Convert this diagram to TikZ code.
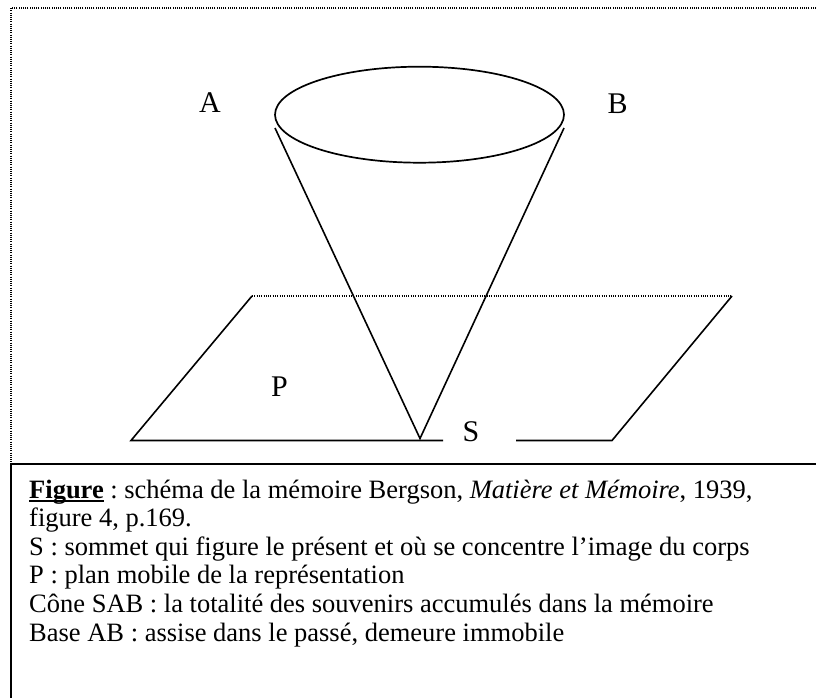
\documentclass[tikz,border=0pt]{standalone}
\usepackage{fontspec}
\setmainfont{Liberation Serif}
\usetikzlibrary{shapes.geometric}
\newcommand{\figunderline}[1]{\setbox0\hbox{#1}\rlap{\rule[-4pt]{\wd0}{1.8pt}}\box0\relax}
\tikzset{
    figure label/.style={
        font=\fontsize{30}{36}\selectfont,
        inner sep=0pt
    },
    caption line/.style={
        font=\fontsize{26.5}{28.6}\selectfont\frenchspacing,
        anchor=base west,
        inner sep=0pt
    },
    plane edge/.style={
        line width=1.6pt,
        black
    },
    plane hidden/.style={
        line width=1.1pt,
        dash pattern=on 1pt off 1.3pt
    },
    frame dotted/.style={
        line width=1.2pt,
        dash pattern=on 1.1pt off 1.1pt
    },
    frame solid/.style={
        line width=2pt
    }
}
\begin{document}
\begin{tikzpicture}[x=1pt,y=-1pt]
            \useasboundingbox (0,0) rectangle (816,698);
            \coordinate (fTL) at (11,8);
            \coordinate (fTR) at (816,8);
            \coordinate (bTL) at (11,464);
            \coordinate (bTR) at (816,464);
            \coordinate (bBL) at (11,698);
            \draw[frame dotted] (fTR) -- (fTL) -- (bTL);
            \draw[frame solid] (bBL) -- (bTL) -- (bTR);

            \node[ellipse, draw, line width=1.7pt, inner sep=0pt,
                  minimum width=289pt, minimum height=96pt] (base) at (419.5,114.7) {};
            \coordinate (rimA) at (275,128);
            \coordinate (rimB) at (564,128);
            \coordinate (apex) at (420,438.5);
            \draw[plane edge] (rimA) -- (apex) -- (rimB);

            \coordinate (p1) at (131,440.5);
            \coordinate (p2) at (252,296);
            \coordinate (p3) at (732,296);
            \coordinate (p4) at (612,440.5);
            \coordinate (gapL) at (443,440.5);
            \coordinate (gapR) at (516,440.5);
            \draw[plane edge] (gapL) -- (p1) -- (p2);
            \draw[plane hidden] (p2) -- (p3);
            \draw[plane edge] (p3) -- (p4) -- (gapR);

            \node[figure label] (A) at (210,103) {A};
            \node[figure label] (B) at (617.5,103.5) {B};
            \node[figure label] (P) at (279.5,387) {P};
            \node[figure label] (S) at (471,432) {S};

            \node[caption line] (l1) at (29,498) {\figunderline{\textbf{Figure}} : schéma de la mémoire Bergson, \textit{Matière et Mémoire}, 1939,};
            \node[caption line] (l2) at (29,526.6) {figure 4, p.169.};
            \node[caption line] (l3) at (29,555.2) {S : sommet qui figure le présent et où se concentre l’image du corps};
            \node[caption line] (l4) at (29,583.8) {P : plan mobile de la représentation};
            \node[caption line] (l5) at (29,612.4) {Cône SAB : la totalité des souvenirs accumulés dans la mémoire};
            \node[caption line] (l6) at (29,641) {Base AB : assise dans le passé, demeure immobile};
\end{tikzpicture}
\end{document}
